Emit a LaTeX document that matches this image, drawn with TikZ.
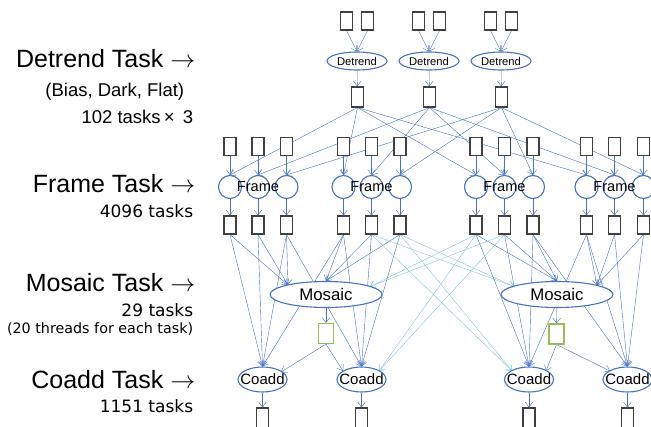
\documentclass[tikz,border=0pt]{standalone}
\usepackage{fontspec}
\setmainfont{Liberation Sans}
\newfontfamily\countfont{DejaVu Sans}
\usetikzlibrary{arrows.meta}
\usetikzlibrary{shapes, backgrounds, calc}

\definecolor{linkblue}{HTML}{4472C4}
\definecolor{lightlink}{HTML}{86C5DA}
\definecolor{boxgray}{HTML}{404040}
\definecolor{outgreen}{HTML}{9BBB59}

\begin{document}
\begin{tikzpicture}[x=1pt, y=-1pt, ->, >={Straight Barb[length=5pt,width=7.5pt]}, line width=1pt]

%====Definizione stili=======================================================

	\tikzstyle{datafile}=[draw=boxgray, fill=white, line width=1.1pt, minimum width=12pt, minimum height=18pt, inner sep=0pt]
	\tikzstyle{greenfile}=[datafile, draw=outgreen, minimum width=15pt, minimum height=20pt]
	\tikzstyle{tasknode}=[ellipse, draw=linkblue, fill=white, line width=1.1pt, inner sep=0pt]
	\tikzstyle{framecirc}=[circle, draw=linkblue, fill=white, line width=1.1pt, minimum size=23pt, inner sep=0pt]
	\tikzstyle{dep}=[draw=linkblue]
	\tikzstyle{crossdep}=[draw=lightlink]
	\tikzstyle{bigtext}=[anchor=base east, font=\fontsize{25}{29}\selectfont]
	\tikzstyle{subtext}=[anchor=base east, font=\fontsize{18.5}{21}\selectfont]
	\tikzstyle{counttext}=[anchor=base east, font=\countfont\fontsize{17}{19}\selectfont]

	\path[use as bounding box] (0,0) rectangle (651,426);

%====Etichette a sinistra====================================================

	\node[bigtext]   (detlab)  at (199,67)  {Detrend Task $\rightarrow$};
	\node[subtext]   (detsub)  at (188,96)  {(Bias, Dark, Flat)};
	\node[subtext]   (detnum)  at (197,123) {102 tasks\,×\, 3};
	\node[bigtext]   (frlab)   at (199,192) {Frame Task $\rightarrow$};
	\node[counttext] (frnum)   at (197,217) {4096 tasks};
	\node[bigtext]   (moslab)  at (199,291) {Mosaic Task $\rightarrow$};
	\node[counttext] (mosnum)  at (197,316) {29 tasks};
	\node[counttext, font=\countfont\fontsize{14.3}{16}\selectfont] (mosthr) at (197,333) {(20 threads for each task)};
	\node[bigtext]   (colab)   at (199,388) {Coadd Task $\rightarrow$};
	\node[counttext] (conum)   at (197,412) {1151 tasks};

%====Detrend=================================================================

	\foreach \i/\x in {1/357.5, 2/429.5, 3/501.5} {
		\node[datafile] (ina\i) at (\x-11,21) {};
		\node[datafile] (inb\i) at (\x+10,21) {};
		\node[tasknode, minimum width=60pt, minimum height=18pt, font=\fontsize{11.2}{13}\selectfont] (det\i) at (\x-0.5,61) {Detrend};
		\node[datafile, minimum height=20pt] (dout\i) at (\x,97) {};
	}

%====Frame===================================================================

	\foreach \i/\x in {1/230, 2/258, 3/286.5, 4/343.5, 5/371.5, 6/400, 7/476, 8/504.5, 9/533, 10/586.5, 11/614.5, 12/643.5} {
		\node[datafile]  (fin\i) at (\x,146.5) {};
		\node[framecirc] (fr\i)  at (\x,187) {};
		\node[datafile]  (fo\i)  at (\x,225) {};
	}
	\foreach \i in {2,5,8,11}
		\node[font=\fontsize{14.6}{17}\selectfont] (flab\i) at (fr\i) {Frame};

%====Mosaic e Coadd==========================================================

	\node[tasknode, minimum width=112pt, minimum height=26pt, font=\fontsize{16.8}{20}\selectfont] (mos1) at (326,294.5) {Mosaic};
	\node[tasknode, minimum width=112pt, minimum height=26pt, font=\fontsize{16.8}{20}\selectfont] (mos2) at (557,294.5) {Mosaic};
	\node[greenfile] (gr1) at (326,333.5) {};
	\node[greenfile] (gr2) at (556.5,334) {};

	\foreach \i/\x in {1/262.5, 2/361.5, 3/529, 4/627.5} {
		\node[tasknode, minimum width=49pt, minimum height=25pt, inner xsep=-5pt, font=\fontsize{15}{18}\selectfont] (cd\i) at (\x,379.5) {Coadd};
		\node[datafile, minimum height=20pt] (cout\i) at (\x,418) {};
	}

	\coordinate (m1a) at (288,285);
	\coordinate (m1c) at (370,286.5);
	\coordinate (m2a) at (514,286.5);
	\coordinate (m2c) at (597,285);
	\coordinate (c2r) at (379,371);
	\coordinate (c3l) at (512,371);
	\coordinate (g1a) at (281,372);
	\coordinate (g1b) at (343,371);
	\coordinate (g2a) at (546,371);
	\coordinate (g2b) at (610,371);

%====Collegamenti============================================================

	\begin{scope}[on background layer]
		\foreach \i in {1,2,3} {
			\draw[dep] (ina\i.south) -- (det\i.north);
			\draw[dep] (inb\i.south) -- (det\i.north);
			\draw[dep] (det\i) -- (dout\i);
		}
		\foreach \d/\f in {1/1, 1/4, 1/7, 1/10, 2/2, 2/5, 2/8, 2/11, 3/3, 3/6, 3/9, 3/12}
			\draw[dep] (dout\d.south) -- (fr\f.north);
		\foreach \i in {1,...,12} {
			\draw[dep] (fin\i) -- (fr\i);
			\draw[dep] (fr\i) -- (fo\i);
		}
		% frame -> mosaic
		\foreach \f/\t in {1/m1a, 2/m1a, 3/m1a, 4/mos1.north, 5/mos1.north, 6/mos1.north, 7/mos2.north, 8/mos2.north, 9/mos2.north, 10/m2c, 11/m2c, 12/m2c}
			\draw[dep] (fo\f.south) -- (\t);
		\foreach \f/\t in {5/m2a, 6/m2a, 7/m1c, 8/m1c}
			\draw[crossdep] (fo\f.south) -- (\t);
		% frame -> coadd
		\foreach \f/\c in {1/1, 2/1, 3/1, 4/1, 3/2, 4/2, 5/2, 6/2, 7/3, 8/3, 9/3, 10/3, 9/4, 10/4, 11/4, 12/4}
			\draw[dep] (fo\f.south) -- (cd\c.north);
		\foreach \f/\t in {5/c3l, 6/c3l, 7/c2r, 8/c2r}
			\draw[crossdep] (fo\f.south) -- (\t);
		% mosaic -> coadd
		\draw[dep] (mos1) -- (gr1);
		\draw[dep] (mos2) -- (gr2);
		\draw[dep] (gr1.south) -- (g1a);
		\draw[dep] (gr1.south) -- (g1b);
		\draw[dep] (gr2.south) -- (g2a);
		\draw[dep] (gr2.south) -- (g2b);
		\foreach \i in {1,...,4}
			\draw[dep] (cd\i) -- (cout\i);
	\end{scope}
\end{tikzpicture}
\end{document}
